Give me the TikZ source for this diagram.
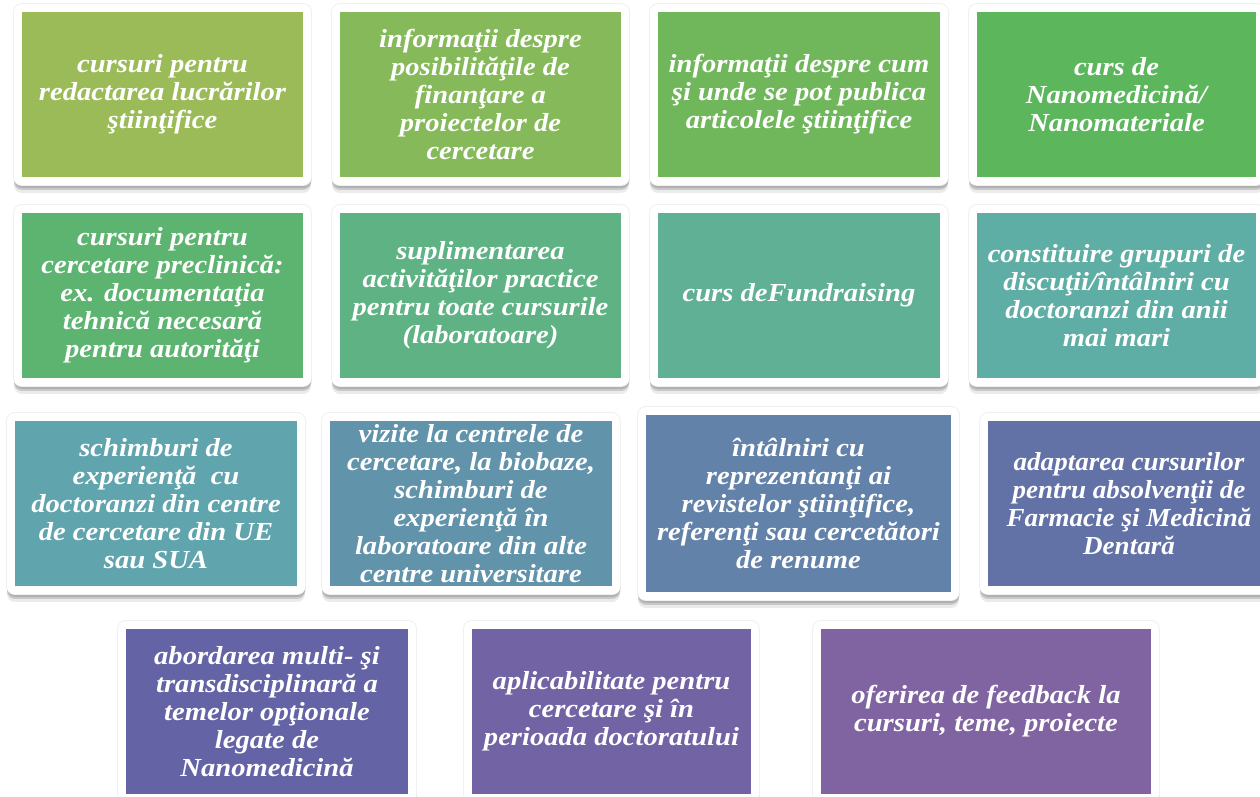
\documentclass[tikz,border=0pt]{standalone}
\usepackage{fontspec}
\setmainfont{Liberation Serif}
\newfontfamily\cardfont[FakeStretch=1.1]{Liberation Serif}
\newfontfamily\cardfontnarrow[FakeStretch=1.04]{Liberation Serif}
\definecolor{c0}{RGB}{155,187,89}
\definecolor{c1}{RGB}{133,185,90}
\definecolor{c2}{RGB}{112,183,91}
\definecolor{c3}{RGB}{92,182,92}
\definecolor{c4}{RGB}{93,180,112}
\definecolor{c5}{RGB}{94,178,131}
\definecolor{c6}{RGB}{95,176,149}
\definecolor{c7}{RGB}{95,174,165}
\definecolor{c8}{RGB}{96,164,173}
\definecolor{c9}{RGB}{97,147,171}
\definecolor{c10}{RGB}{98,130,169}
\definecolor{c11}{RGB}{98,114,167}
\definecolor{c12}{RGB}{99,99,166}
\definecolor{c13}{RGB}{114,99,164}
\definecolor{c14}{RGB}{128,100,162}
\tikzset{
  card/.style={rectangle, inner sep=0pt, outer sep=0pt,
    minimum width=281pt, minimum height=165pt,
    text=white, align=center,
    font=\cardfont\fontsize{26}{28}\selectfont\bfseries\itshape,
    preaction={draw=black, fill=black, opacity=0.08, line width=16pt, line join=round,
      transform canvas={yshift=-8pt}},
    preaction={draw=black, fill=black, opacity=0.14, line width=16pt, line join=round,
      transform canvas={yshift=-5pt}},
    preaction={draw=black, fill=black, opacity=0.12, line width=17pt, line join=round,
      transform canvas={yshift=-2pt}},
    preaction={draw=black!6, line width=18pt, line join=round},
    preaction={draw=white, line width=16pt, line join=round}},
  narrowtext/.style={font=\cardfontnarrow\fontsize{26}{28}\selectfont\bfseries\itshape},
}
\begin{document}
\begin{tikzpicture}[x=1pt,y=-1pt]
\clip (0,0) rectangle (1260,797);
\fill[white] (0,0) rectangle (1260,797);
% row 1
\node[card, fill=c0] (b1) at (162.5,94.5) {cursuri pentru\\redactarea lucrărilor\\ştiinţifice};
\node[card, fill=c1] (b2) at (480.5,94.5) {informaţii despre\\posibilităţile de\\finanţare a\\proiectelor de\\cercetare};
\node[card, fill=c2, minimum width=282pt] (b3) at (799,94.5) {informaţii despre cum\\şi unde se pot publica\\articolele ştiinţifice};
\node[card, fill=c3, minimum width=279pt] (b4) at (1116.5,94.5) {curs de\\Nanomedicină/\\Nanomateriale};
% row 2
\node[card, fill=c4] (b5) at (162.5,295.5) {cursuri pentru\\cercetare preclinică:\\ex. documentaţia\\tehnică necesară\\pentru autorităţi};
\node[card, fill=c5] (b6) at (480.5,295.5) {suplimentarea\\activităţilor practice\\pentru toate cursurile\\(laboratoare)};
\node[card, fill=c6, minimum width=282pt] (b7) at (799,295.5) {curs deFundraising};
\node[card, fill=c7, minimum width=279pt] (b8) at (1116.5,295.5) {constituire grupuri de\\discuţii/întâlniri cu\\doctoranzi din anii\\mai mari};
% row 3
\node[card, fill=c8, minimum width=282pt] (b9) at (156,503.5) {schimburi de\\experienţă\ \ cu\\doctoranzi din centre\\de cercetare din UE\\sau SUA};
\node[card, fill=c9, minimum width=282pt] (b10) at (471,503.5) {vizite la centrele de\\cercetare, la biobaze,\\schimburi de\\experienţă în\\laboratoare din alte\\centre universitare};
\node[card, fill=c10, minimum width=305pt, minimum height=177pt] (b11) at (798.5,503.5) {întâlniri cu\\reprezentanţi ai\\revistelor ştiinţifice,\\referenţi sau cercetători\\de renume};
\node[card, narrowtext, fill=c11, minimum width=282pt] (b12) at (1129,503.5) {adaptarea cursurilor\\pentru absolvenţii de\\Farmacie şi Medicină\\Dentară};
% row 4
\node[card, fill=c12, minimum width=282pt] (b13) at (267,711.5) {abordarea multi- şi\\transdisciplinară a\\temelor opţionale\\legate de\\Nanomedicină};
\node[card, fill=c13, minimum width=279pt] (b14) at (611.5,711.5) {aplicabilitate pentru\\cercetare şi în\\perioada doctoratului};
\node[card, fill=c14, minimum width=330pt] (b15) at (986,711.5) {oferirea de feedback la\\cursuri, teme, proiecte};
\end{tikzpicture}
\end{document}
